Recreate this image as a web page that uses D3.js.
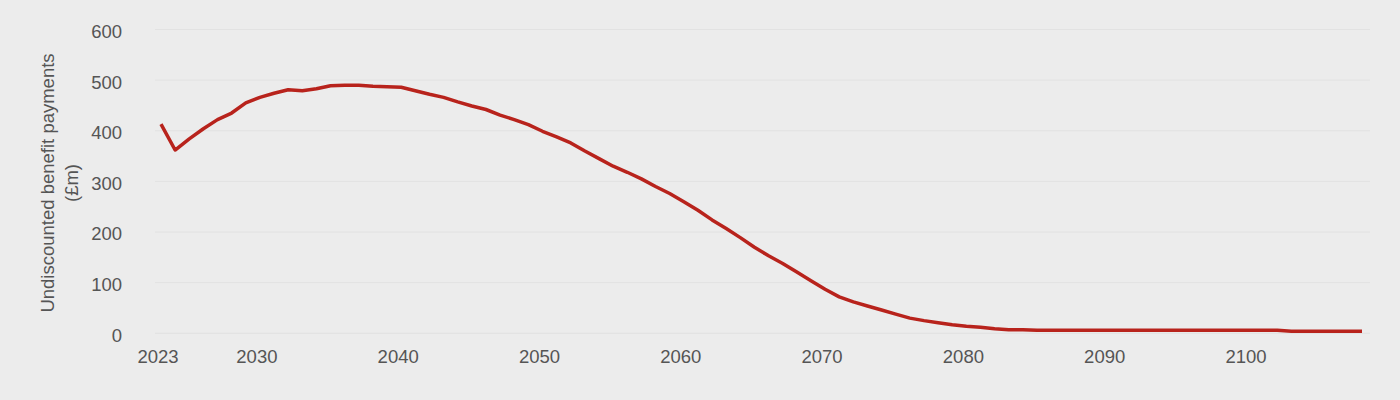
<!DOCTYPE html>
<html>
<head>
<meta charset="utf-8">
<script src="https://cdn.jsdelivr.net/npm/d3@7"></script>
<style>
  html, body { margin: 0; padding: 0; background: #ececec; }
  svg { display: block; }
  text { font-family: "Liberation Sans", Arial, Helvetica, sans-serif; fill: #555555; }
</style>
</head>
<body>
<svg id="chart" width="1400" height="400"></svg>
<script>
const years = [
  2023, 2024, 2025, 2026, 2027, 2028, 2029, 2030, 2031, 2032,
  2033, 2034, 2035, 2036, 2037, 2038, 2039, 2040, 2041, 2042,
  2043, 2044, 2045, 2046, 2047, 2048, 2049, 2050, 2051, 2052,
  2053, 2054, 2055, 2056, 2057, 2058, 2059, 2060, 2061, 2062,
  2063, 2064, 2065, 2066, 2067, 2068, 2069, 2070, 2071, 2072,
  2073, 2074, 2075, 2076, 2077, 2078, 2079, 2080, 2081, 2082,
  2083, 2084, 2085, 2086, 2087, 2088, 2089, 2090, 2091, 2092,
  2093, 2094, 2095, 2096, 2097, 2098, 2099, 2100, 2101, 2102,
  2103, 2104, 2105, 2106, 2107, 2108
];
const payments = [
  413, 362, 384, 404, 422, 435, 455, 466, 474, 481,
  479, 483, 489, 490, 490, 488, 487, 486, 479, 472,
  466, 457, 449, 442, 431, 422, 412, 399, 388, 376,
  360, 345, 330, 318, 305, 290, 276, 260, 243, 224,
  207, 189, 170, 153, 138, 121, 104, 87, 72, 62,
  54, 46, 38, 30, 25, 21, 17, 14, 12, 9,
  7, 7, 6, 6, 6, 6, 6, 6, 6, 6,
  6, 6, 6, 6, 6, 6, 6, 6, 6, 6,
  4, 4, 4, 4, 4, 4
];
const xTickYears = [2023, 2030, 2040, 2050, 2060, 2070, 2080, 2090, 2100];
const yTickValues = [0, 100, 200, 300, 400, 500, 600];
const yTitleLines = ["Undiscounted benefit payments", "(£m)"];

const svg = d3.select("#chart");
const x = d3.scaleLinear().domain([2023, 2108]).range([161, 1362]);
const y = d3.scaleLinear().domain([0, 600]).range([333.3, 29.5]);
const gridLeft = 155, gridRight = 1370;
const fontSize = 18.5;

// gridlines
svg.append("g").selectAll("line").data(yTickValues).join("line")
  .attr("x1", gridLeft).attr("x2", gridRight)
  .attr("y1", d => y(d)).attr("y2", d => y(d))
  .attr("stroke", "#e2e2e2").attr("stroke-width", 1);

// y axis labels
const yAxis = d3.axisLeft(y).tickValues(yTickValues).tickSize(0).tickPadding(0);
const gy = svg.append("g").attr("transform", "translate(122,2)").call(yAxis);
gy.select(".domain").remove();
gy.selectAll("text").attr("font-size", fontSize).style("font-family", '"Liberation Sans", Arial, sans-serif').attr("fill", "#555555");

// x axis labels
const xAxis = d3.axisBottom(x).tickValues(xTickYears).tickFormat(d3.format("d")).tickSize(0).tickPadding(0);
const gx = svg.append("g").attr("transform", "translate(-3.5,350)").call(xAxis);
gx.select(".domain").remove();
gx.selectAll("text").attr("font-size", fontSize).style("font-family", '"Liberation Sans", Arial, sans-serif').attr("fill", "#555555");

// y title
const title = svg.append("text")
  .attr("transform", "translate(54,183) rotate(-90)")
  .attr("text-anchor", "middle")
  .attr("font-size", fontSize);
title.selectAll("tspan").data(yTitleLines).join("tspan")
  .attr("x", 0).attr("dy", (d, i) => i === 0 ? 0 : 24)
  .text(d => d);

// line
const data = years.map((yr, i) => ({ yr, v: payments[i] }));
svg.append("path").datum(data)
  .attr("fill", "none")
  .attr("stroke", "#b8231c")
  .attr("stroke-width", 3.5)
  .attr("stroke-linejoin", "round")
  .attr("d", d3.line().x(d => x(d.yr)).y(d => y(d.v)));
</script>
</body>
</html>
